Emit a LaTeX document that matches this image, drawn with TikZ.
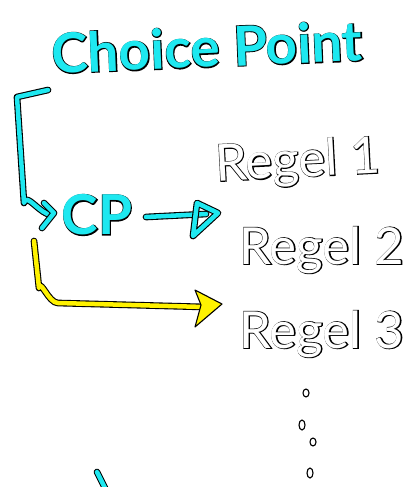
\documentclass[tikz,border=0pt]{standalone}
\usepackage{fontspec}
\setmainfont{Lato}
\newfontfamily\boldback{Lato Bold}[RawFeature={embolden=3}]
\newfontfamily\regback{Lato}[RawFeature={embolden=3}]
\newfontfamily\boldfront{Lato Bold}
\definecolor{cpcyan}{RGB}{30,232,240}
\definecolor{cpyellow}{RGB}{255,242,0}
\tikzset{
  cyanline/.style={draw=black, line width=1.1pt, double=cpcyan, double distance=4.5pt, line cap=round, line join=round},
  yellowline/.style={draw=black, line width=1.1pt, double=cpyellow, double distance=4.5pt, line cap=round, line join=round},
  bigback/.style={inner sep=0pt, text=black, font=\fontsize{55}{55}\selectfont\boldback},
  bigfront/.style={inner sep=0pt, text=cpcyan, font=\fontsize{55}{55}\selectfont\boldfront},
  regback/.style={inner sep=0pt, text=black, font=\fontsize{51}{51}\selectfont\regback},
  regfront/.style={inner sep=0pt, text=white, font=\fontsize{51}{51}\selectfont},
  dotmark/.style={draw=black, line width=1.1pt, fill=white}
}
\begin{document}
\begin{tikzpicture}[x=1pt,y=-1pt]
\useasboundingbox (0,0) rectangle (415,487);
\fill[white] (0,0) rectangle (415,487);

\node[bigback, rotate=2.4] (title-o) at (207,47) {Choice Point};
\node[bigfront, rotate=2.4] (title) at (207,47) {Choice Point};
\node[bigback] (cp-o) at (97,215) {CP};
\node[bigfront] (cp) at (97,215) {CP};
\node[regback, rotate=3] (r1-o) at (298,163) {Regel 1};
\node[regfront, rotate=3] (r1) at (298,163) {Regel 1};
\node[regback] (r2-o) at (322,250) {Regel 2};
\node[regfront] (r2) at (322,250) {Regel 2};
\node[regback] (r3-o) at (322,334) {Regel 3};
\node[regfront] (r3) at (322,334) {Regel 3};

% bracket from title to CP
\coordinate (b0) at (48,90);
\coordinate (b1) at (17,97);
\coordinate (b2) at (24,203);
\coordinate (b3) at (52,215);
\draw[cyanline] (b0) -- (b1) -- (b2) to[out=80,in=180] (b3);
\draw[cyanline] (44,203) -- (54,213) -- (42,228);

% CP arrow to Regel 1/2
\coordinate (a0) at (146,217);
\coordinate (a1) at (206,214);
\draw[cyanline] (a0) -- (a1);
\draw[cyanline] (197,203) -- (218,213) -- (193,236) -- cycle;

% yellow arrow to Regel 3
\coordinate (y0) at (34,241);
\coordinate (y1) at (39,288);
\coordinate (y2) at (58,303);
\coordinate (y3) at (205,307);
\draw[yellowline] (y0) -- (y1) to[out=80,in=180] (y2) -- (y3);
\draw[draw=black, line width=1.1pt, fill=cpyellow, line join=round] (195,290) -- (222,304) -- (195,327) -- (201,305) -- cycle;

% dots
\draw[dotmark] (306,393) ellipse (3pt and 4pt);
\draw[dotmark] (302,425) ellipse (3pt and 5pt);
\draw[dotmark] (313,442) ellipse (3pt and 4pt);
\draw[dotmark] (310,473) ellipse (3pt and 5pt);

% small cyan stroke at bottom
\draw[cyanline] (97,472) -- (107,492);
\end{tikzpicture}
\end{document}
